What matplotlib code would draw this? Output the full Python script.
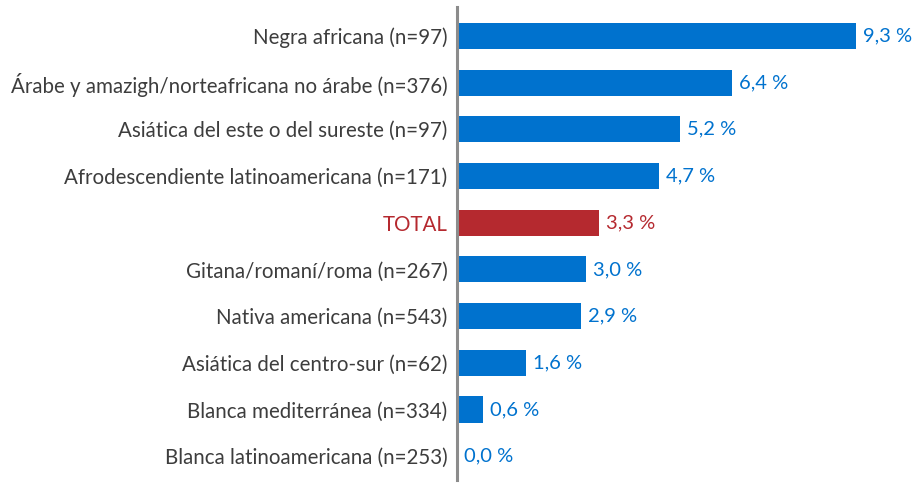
import matplotlib.pyplot as plt
import numpy as np

# ==================== 数据 ====================
categories = [
    "Negra africana (n=97)",
    "Árabe y amazigh/norteafricana no árabe (n=376)",
    "Asiática del este o del sureste (n=97)",
    "Afrodescendiente latinoamericana (n=171)",
    "TOTAL",
    "Gitana/romaní/roma (n=267)",
    "Nativa americana (n=543)",
    "Asiática del centro-sur (n=62)",
    "Blanca mediterránea (n=334)",
    "Blanca latinoamericana (n=253)",
]
values = [9.3, 6.4, 5.2, 4.7, 3.3, 3.0, 2.9, 1.6, 0.6, 0.0]
highlight = "TOTAL"

BLUE = "#0072CE"
RED = "#B5292F"
TEXT = "#3d3d3d"

plt.rcParams["font.family"] = ["Lato", "DejaVu Sans"]

fig = plt.figure(figsize=(9.14, 4.83), dpi=100)
# 左轴线在 x≈457px，顶部 7px，底部 480px
ax = fig.add_axes([457 / 914, 3 / 483, 457 / 914, 473 / 483])

y = np.arange(len(categories))
colors = [RED if c == highlight else BLUE for c in categories]
ax.barh(y, values, height=0.56, color=colors, zorder=2)

for yi, v, c in zip(y, values, colors):
    ax.annotate(f"{v:.1f}".replace(".", ",") + " %", (v, yi),
                xytext=(7, 0), textcoords="offset pixels",
                va="center", ha="left", fontsize=14.5, color=c)

ax.set_xlim(0, 10.65)
ax.set_ylim(9.51, -0.62)
ax.set_yticks(y)
ax.set_yticklabels(categories, fontsize=14.8)
for lbl, c in zip(ax.get_yticklabels(), categories):
    lbl.set_color(RED if c == highlight else TEXT)
ax.tick_params(axis="y", length=0, pad=7)
ax.set_xticks([])

for s in ["top", "right", "bottom"]:
    ax.spines[s].set_visible(False)
ax.spines["left"].set_color("#8c8c8c")
ax.spines["left"].set_linewidth(2.2)
ax.spines["left"].set_zorder(3)

fig.savefig("out.png", dpi=100)
